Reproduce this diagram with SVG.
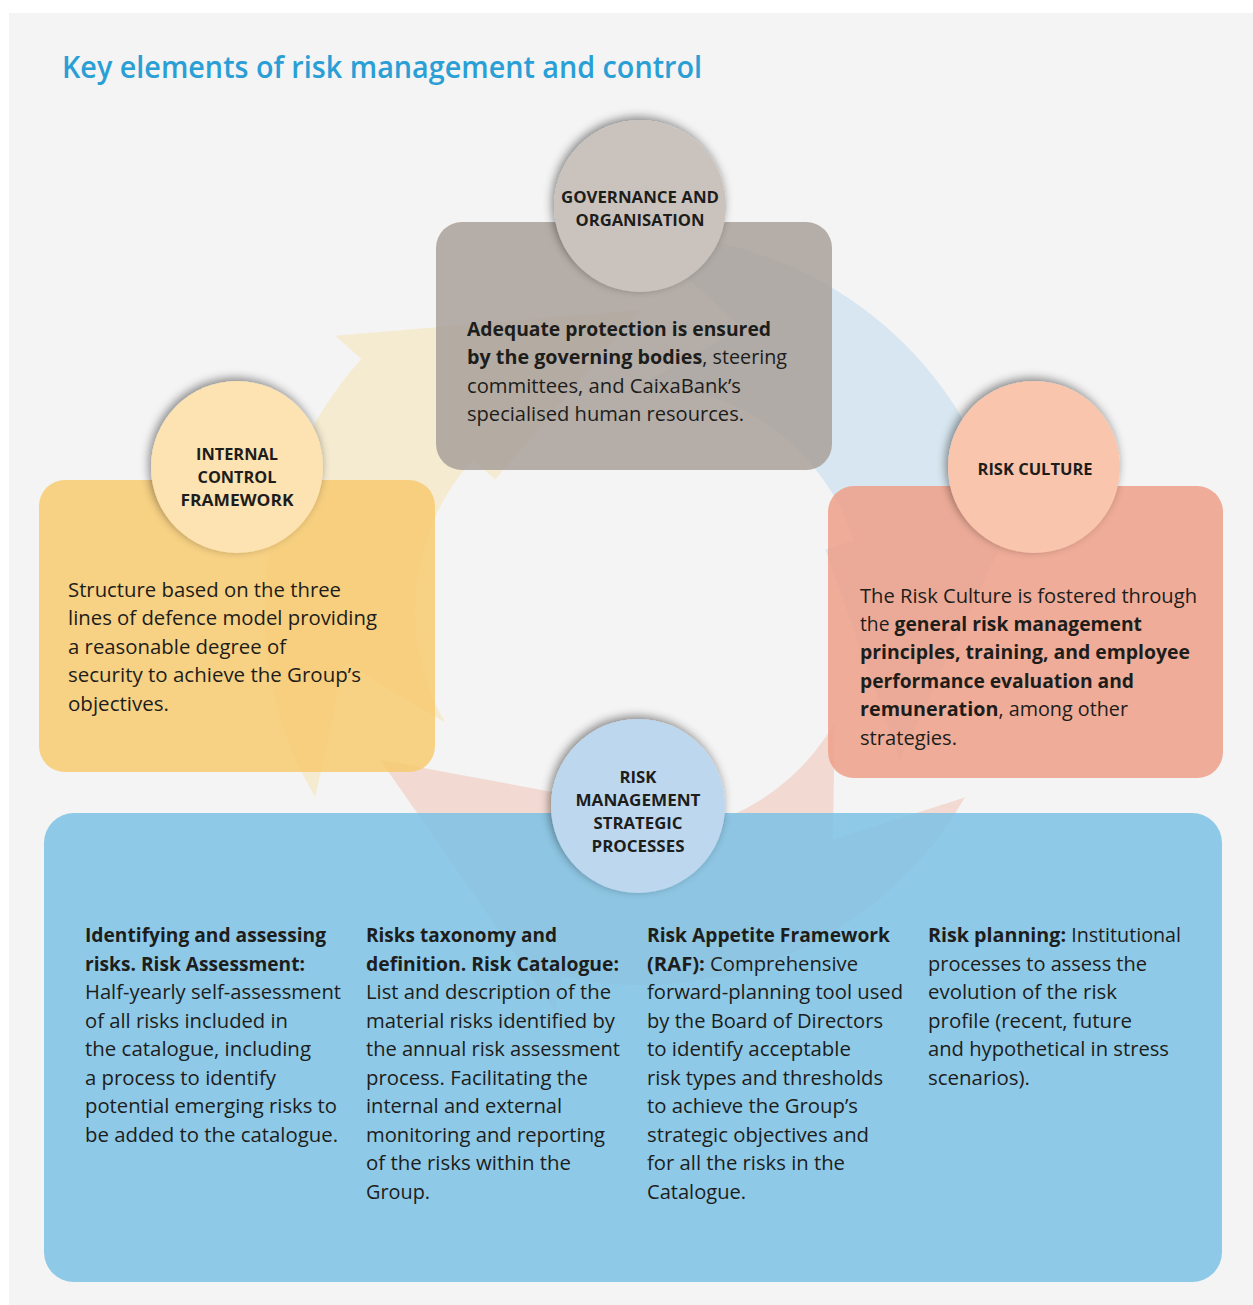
<svg xmlns="http://www.w3.org/2000/svg" width="1253" height="1305" viewBox="0 0 1253 1305">
<defs>
<style>
.t{font-family:"Open Sans","Liberation Sans",sans-serif;font-size:20px;fill:#1d1d1b}
.b{font-weight:700}
.c{font-family:"Open Sans","Liberation Sans",sans-serif;font-size:16px;font-weight:700;fill:#1d1d1b;text-anchor:middle}
.title{font-family:"Open Sans","Liberation Sans",sans-serif;font-size:30px;font-weight:600;fill:#2a9fd6}
.box{fill-opacity:0.86}
</style>
<filter id="sh" x="-30%" y="-30%" width="160%" height="160%">
<feDropShadow dx="-2" dy="-3" stdDeviation="5" flood-color="#000" flood-opacity="0.45"/>
</filter>
</defs>
<rect x="0" y="0" width="1253" height="1305" fill="#ffffff"/>
<rect x="9" y="13" width="1244" height="1292" fill="#f4f4f4"/>
<text class="title" x="62" y="78" textLength="640" lengthAdjust="spacingAndGlyphs">Key elements of risk management and control</text>

<g id="connectors">
<path d="M315.2,797.5 A375,375 0 0 1 361.3,359.1 L335.3,335.7 L640,310 L495.1,479.5 L472.8,459.5 A225,225 0 0 0 445.1,722.5 L344.6,662.1 Z" fill="#f9d98a" fill-opacity="0.32"/>
<path d="M640,235 A375,375 0 0 1 996.7,494.1 L1029.9,483.3 L899.8,760 L825.5,549.7 L854,540.5 A225,225 0 0 0 640,385 L742.6,328.1 Z" fill="#9ccbe8" fill-opacity="0.32"/>
<path d="M964.8,797.5 A375,375 0 0 1 562,976.8 L554.8,1011 L380.2,760 L599.5,800.7 L593.2,830.1 A225,225 0 0 0 834.9,722.5 L832.8,839.8 Z" fill="#f0a48e" fill-opacity="0.32"/>
</g>

<g id="node-governance">
<rect class="box" x="436" y="222" width="396" height="248" rx="26" fill="#a9a19b"/>
<circle cx="640" cy="206" r="86" fill="#cac3bd" filter="url(#sh)"/>
<text class="c" x="640" y="203" textLength="158" lengthAdjust="spacingAndGlyphs">GOVERNANCE AND</text>
<text class="c" x="640" y="226" textLength="129" lengthAdjust="spacingAndGlyphs">ORGANISATION</text>
<text class="t b" x="467" y="336" textLength="304" lengthAdjust="spacingAndGlyphs">Adequate protection is ensured</text>
<text class="t" x="467" y="364" textLength="320" lengthAdjust="spacingAndGlyphs"><tspan class="b">by the governing bodies</tspan>, steering</text>
<text class="t" x="467" y="393" textLength="274" lengthAdjust="spacingAndGlyphs">committees, and CaixaBank’s</text>
<text class="t" x="467" y="421" textLength="277" lengthAdjust="spacingAndGlyphs">specialised human resources.</text>
</g>

<g id="node-internal-control">
<rect class="box" x="39" y="480" width="396" height="292" rx="26" fill="#f7cb71"/>
<circle cx="237" cy="467" r="86" fill="#fde2b2" filter="url(#sh)"/>
<text class="c" x="237" y="460" textLength="82" lengthAdjust="spacingAndGlyphs">INTERNAL</text>
<text class="c" x="237" y="483" textLength="79" lengthAdjust="spacingAndGlyphs">CONTROL</text>
<text class="c" x="237" y="506" textLength="113" lengthAdjust="spacingAndGlyphs">FRAMEWORK</text>
<text class="t" x="68" y="597" textLength="273" lengthAdjust="spacingAndGlyphs">Structure based on the three</text>
<text class="t" x="68" y="625" textLength="309" lengthAdjust="spacingAndGlyphs">lines of defence model providing</text>
<text class="t" x="68" y="654" textLength="218" lengthAdjust="spacingAndGlyphs">a reasonable degree of</text>
<text class="t" x="68" y="682" textLength="293" lengthAdjust="spacingAndGlyphs">security to achieve the Group’s</text>
<text class="t" x="68" y="711" textLength="101" lengthAdjust="spacingAndGlyphs">objectives.</text>
</g>

<g id="node-risk-culture">
<rect class="box" x="828" y="486" width="395" height="292" rx="26" fill="#ee9f88"/>
<circle cx="1034" cy="467" r="86" fill="#f9c6ad" filter="url(#sh)"/>
<text class="c" x="1035" y="475" textLength="115" lengthAdjust="spacingAndGlyphs">RISK CULTURE</text>
<text class="t" x="860" y="603" textLength="337" lengthAdjust="spacingAndGlyphs">The Risk Culture is fostered through</text>
<text class="t" x="860" y="631" textLength="282" lengthAdjust="spacingAndGlyphs">the <tspan class="b">general risk management</tspan></text>
<text class="t b" x="860" y="659" textLength="330" lengthAdjust="spacingAndGlyphs">principles, training, and employee</text>
<text class="t b" x="860" y="688" textLength="274" lengthAdjust="spacingAndGlyphs">performance evaluation and</text>
<text class="t" x="860" y="716" textLength="268" lengthAdjust="spacingAndGlyphs"><tspan class="b">remuneration</tspan>, among other</text>
<text class="t" x="860" y="745" textLength="97" lengthAdjust="spacingAndGlyphs">strategies.</text>
</g>

<g id="node-strategic-processes">
<rect class="box" x="44" y="813" width="1178" height="469" rx="30" fill="#7dc1e4"/>
<circle cx="638" cy="806" r="87" fill="#bdd7ef" filter="url(#sh)"/>
<text class="c" x="638" y="783" textLength="37" lengthAdjust="spacingAndGlyphs">RISK</text>
<text class="c" x="638" y="806" textLength="125" lengthAdjust="spacingAndGlyphs">MANAGEMENT</text>
<text class="c" x="638" y="829" textLength="89" lengthAdjust="spacingAndGlyphs">STRATEGIC</text>
<text class="c" x="638" y="852" textLength="93" lengthAdjust="spacingAndGlyphs">PROCESSES</text>

<text class="t b" x="85" y="942" textLength="241" lengthAdjust="spacingAndGlyphs">Identifying and assessing</text>
<text class="t b" x="85" y="971" textLength="220" lengthAdjust="spacingAndGlyphs">risks. Risk Assessment:</text>
<text class="t" x="85" y="999" textLength="256" lengthAdjust="spacingAndGlyphs">Half-yearly self-assessment</text>
<text class="t" x="85" y="1028" textLength="203" lengthAdjust="spacingAndGlyphs">of all risks included in</text>
<text class="t" x="85" y="1056" textLength="226" lengthAdjust="spacingAndGlyphs">the catalogue, including</text>
<text class="t" x="85" y="1085" textLength="191" lengthAdjust="spacingAndGlyphs">a process to identify</text>
<text class="t" x="85" y="1113" textLength="252" lengthAdjust="spacingAndGlyphs">potential emerging risks to</text>
<text class="t" x="85" y="1142" textLength="253" lengthAdjust="spacingAndGlyphs">be added to the catalogue.</text>

<text class="t b" x="366" y="942" textLength="191" lengthAdjust="spacingAndGlyphs">Risks taxonomy and</text>
<text class="t b" x="366" y="971" textLength="253" lengthAdjust="spacingAndGlyphs">definition. Risk Catalogue:</text>
<text class="t" x="366" y="999" textLength="245" lengthAdjust="spacingAndGlyphs">List and description of the</text>
<text class="t" x="366" y="1028" textLength="249" lengthAdjust="spacingAndGlyphs">material risks identified by</text>
<text class="t" x="366" y="1056" textLength="254" lengthAdjust="spacingAndGlyphs">the annual risk assessment</text>
<text class="t" x="366" y="1085" textLength="222" lengthAdjust="spacingAndGlyphs">process. Facilitating the</text>
<text class="t" x="366" y="1113" textLength="196" lengthAdjust="spacingAndGlyphs">internal and external</text>
<text class="t" x="366" y="1142" textLength="239" lengthAdjust="spacingAndGlyphs">monitoring and reporting</text>
<text class="t" x="366" y="1170" textLength="205" lengthAdjust="spacingAndGlyphs">of the risks within the</text>
<text class="t" x="366" y="1199" textLength="64" lengthAdjust="spacingAndGlyphs">Group.</text>

<text class="t b" x="647" y="942" textLength="243" lengthAdjust="spacingAndGlyphs">Risk Appetite Framework</text>
<text class="t" x="647" y="971" textLength="211" lengthAdjust="spacingAndGlyphs"><tspan class="b">(RAF):</tspan> Comprehensive</text>
<text class="t" x="647" y="999" textLength="256" lengthAdjust="spacingAndGlyphs">forward-planning tool used</text>
<text class="t" x="647" y="1028" textLength="236" lengthAdjust="spacingAndGlyphs">by the Board of Directors</text>
<text class="t" x="647" y="1056" textLength="204" lengthAdjust="spacingAndGlyphs">to identify acceptable</text>
<text class="t" x="647" y="1085" textLength="236" lengthAdjust="spacingAndGlyphs">risk types and thresholds</text>
<text class="t" x="647" y="1113" textLength="211" lengthAdjust="spacingAndGlyphs">to achieve the Group’s</text>
<text class="t" x="647" y="1142" textLength="222" lengthAdjust="spacingAndGlyphs">strategic objectives and</text>
<text class="t" x="647" y="1170" textLength="198" lengthAdjust="spacingAndGlyphs">for all the risks in the</text>
<text class="t" x="647" y="1199" textLength="99" lengthAdjust="spacingAndGlyphs">Catalogue.</text>

<text class="t" x="928" y="942" textLength="253" lengthAdjust="spacingAndGlyphs"><tspan class="b">Risk planning:</tspan> Institutional</text>
<text class="t" x="928" y="971" textLength="219" lengthAdjust="spacingAndGlyphs">processes to assess the</text>
<text class="t" x="928" y="999" textLength="189" lengthAdjust="spacingAndGlyphs">evolution of the risk</text>
<text class="t" x="928" y="1028" textLength="204" lengthAdjust="spacingAndGlyphs">profile (recent, future</text>
<text class="t" x="928" y="1056" textLength="241" lengthAdjust="spacingAndGlyphs">and hypothetical in stress</text>
<text class="t" x="928" y="1085" textLength="102" lengthAdjust="spacingAndGlyphs">scenarios).</text>
</g>
</svg>
